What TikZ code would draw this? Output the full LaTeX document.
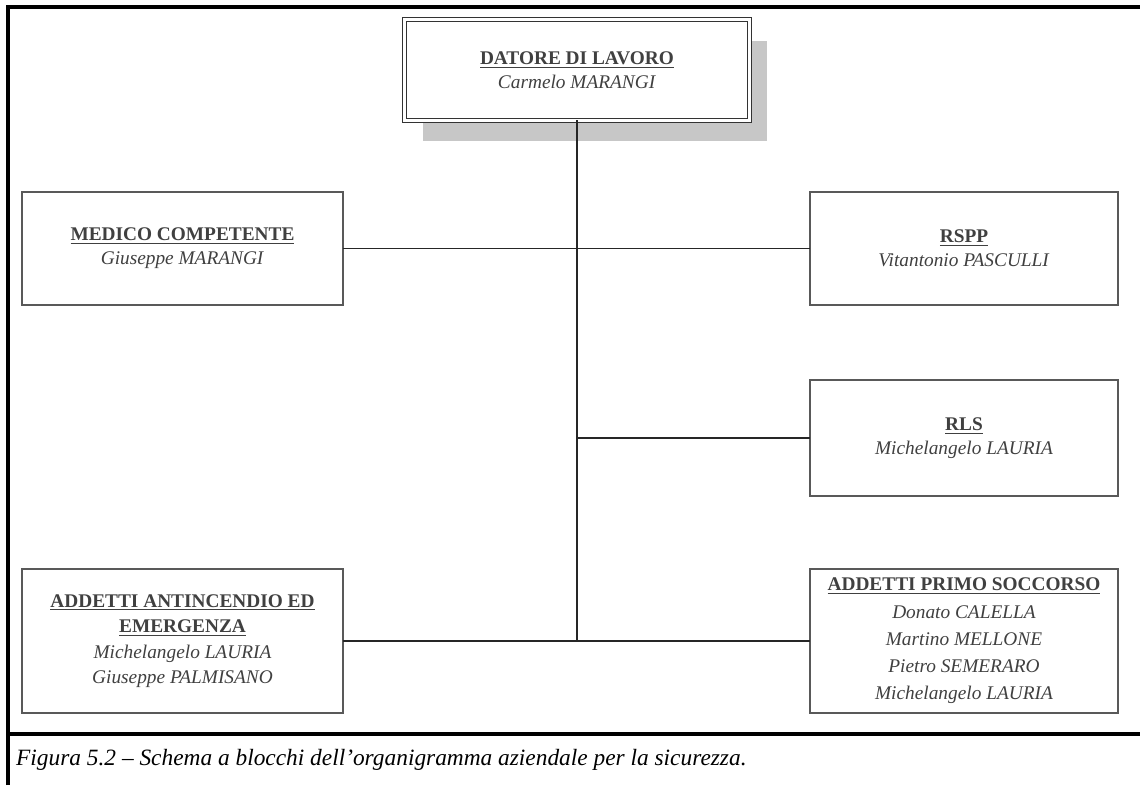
\documentclass[tikz,border=0pt]{standalone}
\usepackage{fontspec}
\setmainfont{Liberation Serif}
\usetikzlibrary{calc,shapes,shadows,positioning}

\begin{document}
\begin{tikzpicture}[x=0.02cm,y=-0.02cm,
  box/.style={draw=black!65,line width=1.1pt,fill=white,align=center,
    text=black!75,font=\fontsize{11}{13.5}\selectfont,inner sep=2pt,outer sep=0pt},
  chief/.style={box,double=white,double distance=1.3pt,line width=0.8pt,draw=black!80,
    drop shadow={shadow xshift=0.36cm,shadow yshift=-0.42cm,fill=black!22,opacity=1}},
  link/.style={draw=black!85,line width=1.1pt},
  frame/.style={line width=2.2pt}]

\useasboundingbox (0,0) rectangle (1140,785);

\draw[frame] (8,785) -- (8,7) -- (1140,7);
\draw[frame] (8,734) -- (1140,734);

\node [chief,minimum width=6.9cm,minimum height=2.02cm] (dl) at (577,70)
  {\underline{\textbf{DATORE DI LAVORO}}\\ \textit{Carmelo MARANGI}};

\node [box,minimum width=6.42cm,minimum height=2.26cm] (mc) at (182.5,248.5)
  {\underline{\textbf{MEDICO COMPETENTE}}\\ \textit{Giuseppe MARANGI}};
\node [box,minimum width=6.16cm,minimum height=2.26cm] (rspp) at (964,248.5)
  {\underline{\textbf{RSPP}}\\ \textit{Vitantonio PASCULLI}};
\node [box,minimum width=6.16cm,minimum height=2.32cm] (rls) at (964,438)
  {\underline{\textbf{RLS}}\\ \textit{Michelangelo LAURIA}};
\node [box,minimum width=6.42cm,minimum height=2.88cm,font=\fontsize{11}{14.5}\selectfont] (aa) at (182.5,641)
  {\underline{\textbf{ADDETTI ANTINCENDIO ED}}\\ \underline{\textbf{EMERGENZA}}\\
   \textit{Michelangelo LAURIA}\\ \textit{Giuseppe PALMISANO}};
\node [box,minimum width=6.16cm,minimum height=2.88cm,font=\fontsize{11}{15.5}\selectfont] (ps) at (964,641)
  {\underline{\textbf{ADDETTI PRIMO SOCCORSO}}\\ \textit{Donato CALELLA}\\
   \textit{Martino MELLONE}\\ \textit{Pietro SEMERARO}\\ \textit{Michelangelo LAURIA}};

\coordinate (tb) at (dl.south |- aa.east);
\draw [link] (dl.south) -- (tb);
\draw [link] (mc.east) -- (rspp.west);
\draw [link] (dl.south |- rls.west) -- (rls.west);
\draw [link] (aa.east) -- (ps.west);

\node [anchor=west,font=\fontsize{13.3}{15}\selectfont\itshape] (cap) at (10,760)
  {Figura 5.2 -- Schema a blocchi dell'organigramma aziendale per la sicurezza.};

\end{tikzpicture}
\end{document}
